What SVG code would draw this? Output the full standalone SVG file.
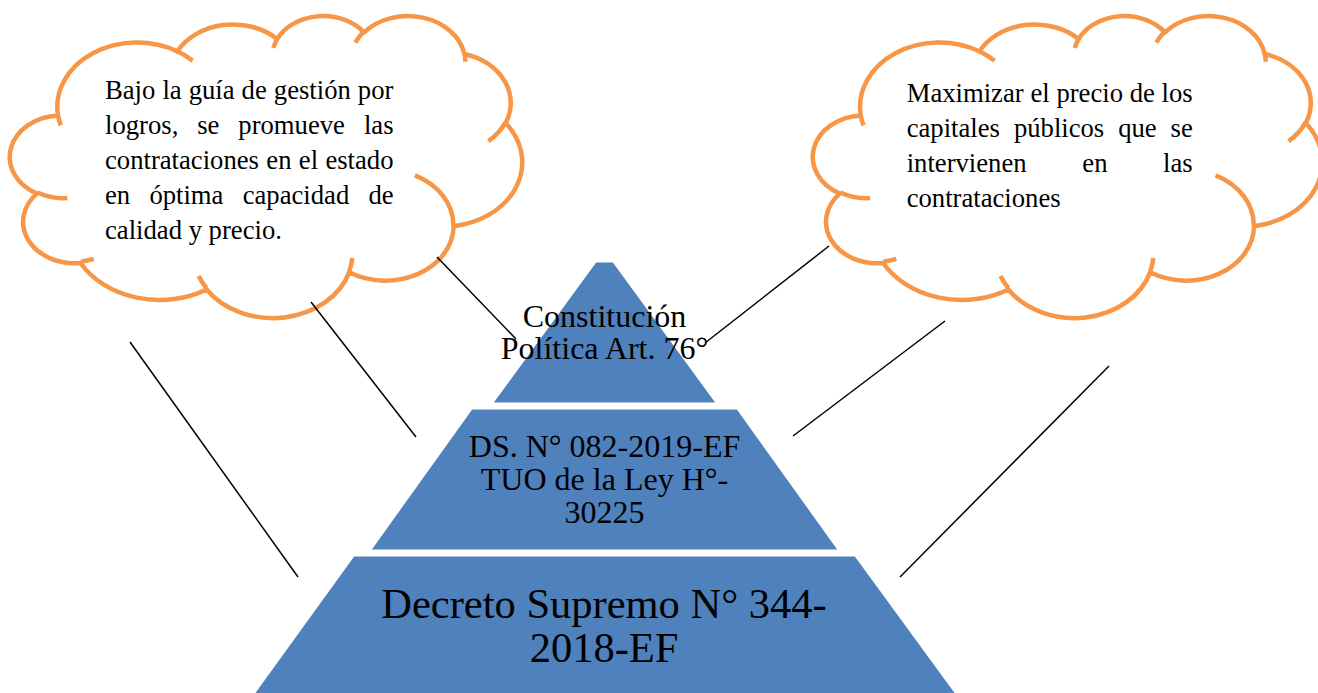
<svg xmlns="http://www.w3.org/2000/svg" width="1318" height="693" viewBox="0 0 1318 693">
<style>
.cl{fill:#FFFFFF;stroke:#F79646;stroke-width:4.5;vector-effect:non-scaling-stroke;stroke-linejoin:round}
.hk{fill:none;stroke:#F79646;stroke-width:4.5;vector-effect:non-scaling-stroke}
.lvl{fill:#4F81BD;stroke:#FFFFFF;stroke-width:1}
.ct{font-family:"Liberation Serif","Times New Roman",serif;font-size:26.67px;fill:#000}
.pt{font-family:"Liberation Serif","Times New Roman",serif;font-size:32px;fill:#000;text-anchor:middle}
.pb{font-family:"Liberation Serif","Times New Roman",serif;font-size:42.5px;fill:#000;text-anchor:middle}
.cn{stroke:#000;stroke-width:1.5;fill:none}
</style>
<rect width="1318" height="693" fill="#FFFFFF"/>
<g id="cloud-left">
<g transform="translate(12,15) scale(0.0118056,0.0069907)">
<path class="cl" d="M3900,14370 A6753,9190 0 0 1 14005,5202 A5333,7267 0 0 1 22456,3432 A4365,5945 0 0 1 29832,2480 A4857,6595 0 0 1 38317,5574 A5333,7273 0 0 1 41817,15458 A6775,9220 0 0 1 37405,30204 A5785,7867 0 0 1 28556,36814 A6752,9215 0 0 1 16481,39266 A7720,10543 0 0 1 5805,35470 A4360,5918 0 0 1 2112,25551 A4345,5945 0 0 1 3900,14370 Z"/>
<path class="hk" d="M4693,26177 A4345,5945 0 0 1 2160,25380 M6928,34899 A4360,5918 0 0 1 5820,35281 M16478,39090 A6752,9215 0 0 1 15810,37349 M28827,34751 A6752,9215 0 0 1 28560,36661 M34129,22954 A5785,7867 0 0 1 37381,30090 M41798,15354 A5333,7273 0 0 1 40350,18030 M38324,5426 A4857,6595 0 0 1 38401,6690 M29078,3952 A4857,6595 0 0 1 29820,2341 M22141,4720 A4365,5945 0 0 1 22500,3330 M14000,5192 A6753,9190 0 0 1 15300,6541 M4127,15789 A6753,9190 0 0 1 3900,14370"/>
</g>
<text class="ct" y="99.3"><tspan x="105">Bajo</tspan><tspan x="162.4">la</tspan><tspan x="188.7">guía</tspan><tspan x="241.6">de</tspan><tspan x="273.8">gestión</tspan><tspan x="357.8">por</tspan></text>
<text class="ct" y="134.2"><tspan x="105">logros,</tspan><tspan x="197.2">se</tspan><tspan x="238.3">promueve</tspan><tspan x="363.9">las</tspan></text>
<text class="ct" y="169.1"><tspan x="105">contrataciones</tspan><tspan x="266.3">en</tspan><tspan x="298.8">el</tspan><tspan x="325.4">estado</tspan></text>
<text class="ct" y="204"><tspan x="105">en</tspan><tspan x="149.4">óptima</tspan><tspan x="242.7">capacidad</tspan><tspan x="368.5">de</tspan></text>
<text class="ct" x="105" y="238.9">calidad y precio.</text>
</g>
<g id="cloud-right">
<g transform="translate(815,15) scale(0.0117361,0.0069907)">
<path class="cl" d="M3900,14370 A6753,9190 0 0 1 14005,5202 A5333,7267 0 0 1 22456,3432 A4365,5945 0 0 1 29832,2480 A4857,6595 0 0 1 38317,5574 A5333,7273 0 0 1 41817,15458 A6775,9220 0 0 1 37405,30204 A5785,7867 0 0 1 28556,36814 A6752,9215 0 0 1 16481,39266 A7720,10543 0 0 1 5805,35470 A4360,5918 0 0 1 2112,25551 A4345,5945 0 0 1 3900,14370 Z"/>
<path class="hk" d="M4693,26177 A4345,5945 0 0 1 2160,25380 M6928,34899 A4360,5918 0 0 1 5820,35281 M16478,39090 A6752,9215 0 0 1 15810,37349 M28827,34751 A6752,9215 0 0 1 28560,36661 M34129,22954 A5785,7867 0 0 1 37381,30090 M41798,15354 A5333,7273 0 0 1 40350,18030 M38324,5426 A4857,6595 0 0 1 38401,6690 M29078,3952 A4857,6595 0 0 1 29820,2341 M22141,4720 A4365,5945 0 0 1 22500,3330 M14000,5192 A6753,9190 0 0 1 15300,6541 M4127,15789 A6753,9190 0 0 1 3900,14370"/>
</g>
<text class="ct" y="101.7"><tspan x="906.7">Maximizar</tspan><tspan x="1030.4">el</tspan><tspan x="1056.4">precio</tspan><tspan x="1129.7">de</tspan><tspan x="1161.6">los</tspan></text>
<text class="ct" y="136.7"><tspan x="906.7">capitales</tspan><tspan x="1013.9">públicos</tspan><tspan x="1118.2">que</tspan><tspan x="1170.6">se</tspan></text>
<text class="ct" y="171.7"><tspan x="906.7">intervienen</tspan><tspan x="1082.3">en</tspan><tspan x="1163.1">las</tspan></text>
<text class="ct" x="906.7" y="206.7">contrataciones</text>
</g>
<g id="level-top">
<polygon class="lvl" points="596,262 613,262 716,403 493,403"/>
<text class="pt" x="604.5" y="327">Constitución</text>
<text class="pt" x="604.5" y="359">Política Art. 76°</text>
</g>
<g id="level-middle">
<polygon class="lvl" points="472,409 737,409 838,550 371,550"/>
<text class="pt" x="604.5" y="457">DS. N° 082-2019-EF</text>
<text class="pt" x="604.5" y="490">TUO de la Ley H°-</text>
<text class="pt" x="604.5" y="523">30225</text>
</g>
<g id="level-bottom">
<polygon class="lvl" points="354,556 855,556 958,697 252,697"/>
<text class="pb" x="604" y="618">Decreto Supremo N° 344-</text>
<text class="pb" x="604" y="662">2018-EF</text>
</g>
<g id="connectors">
<line class="cn" x1="437" y1="257" x2="516" y2="339"/>
<line class="cn" x1="311" y1="302" x2="416" y2="437"/>
<line class="cn" x1="130" y1="342" x2="298" y2="577"/>
<line class="cn" x1="829" y1="246" x2="705" y2="343"/>
<line class="cn" x1="945" y1="321" x2="793" y2="436"/>
<line class="cn" x1="1109" y1="366" x2="900" y2="577"/>
</g>
</svg>
